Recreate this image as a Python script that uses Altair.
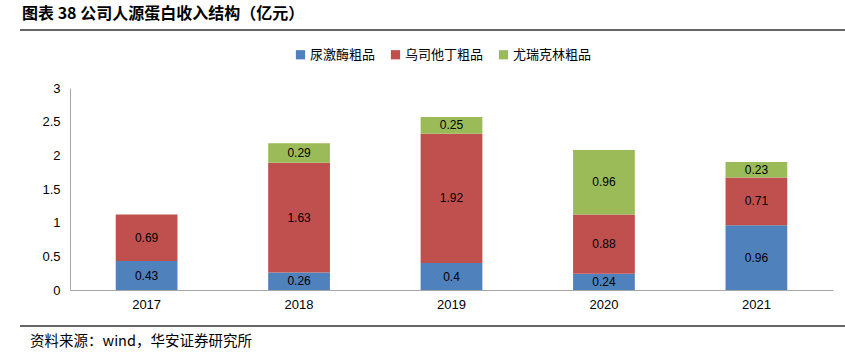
import altair as alt
import pandas as pd

years = ["2017", "2018", "2019", "2020", "2021"]
series = ["尿激酶粗品", "乌司他丁粗品", "尤瑞克林粗品"]
urokinase = [0.43, 0.26, 0.4, 0.24, 0.96]
ulinastatin = [0.69, 1.63, 1.92, 0.88, 0.71]
urinary_kallidinogenase = [None, 0.29, 0.25, 0.96, 0.23]
colors = ["#4F81BD", "#C0504D", "#9BBB59"]
y_ticks = [0, 0.5, 1, 1.5, 2, 2.5, 3]

rows = []
for i, y in enumerate(years):
    for k, vals in enumerate([urokinase, ulinastatin, urinary_kallidinogenase]):
        v = vals[i]
        if v is not None:
            rows.append({"year": y, "series": series[k], "order": k, "value": v, "label": str(v)})
df = pd.DataFrame(rows)

FONT = "Liberation Sans"
CJK = "Noto Sans CJK SC"

base = alt.Chart(df).transform_stack(
    stack="value", groupby=["year"], as_=["v0", "v1"],
    sort=[alt.SortField("order", order="ascending")]
).transform_calculate(mid="(datum.v0 + datum.v1) / 2")

xscale = alt.Scale(domain=years, paddingInner=0.595, paddingOuter=0.3)
yscale = alt.Scale(domain=[0, 3], nice=False, zero=True)

xaxis = alt.Axis(labelAngle=0, ticks=False, grid=False, domainColor="#A6A6A6",
                 labelFont=FONT, labelFontSize=13, labelColor="#000000",
                 labelPadding=8)
yaxis = alt.Axis(values=y_ticks, labelExpr="'' + datum.value", labelOverlap=False,
                 ticks=False, grid=False, domainColor="#A6A6A6",
                 labelFont=FONT, labelFontSize=13, labelColor="#000000",
                 labelPadding=10)

bars = base.mark_bar().encode(
    x=alt.X("year:N", sort=years, title=None, scale=xscale, axis=xaxis),
    y=alt.Y("v0:Q", title=None, scale=yscale, axis=yaxis),
    y2="v1:Q",
    color=alt.Color("series:N", sort=series,
                    scale=alt.Scale(domain=series, range=colors),
                    legend=alt.Legend(title=None, orient="none", direction="horizontal",
                                      legendX=224, legendY=-40,
                                      symbolType="square", symbolSize=85,
                                      symbolStrokeWidth=0, symbolOpacity=1,
                                      labelFont=CJK, labelFontSize=13,
                                      labelColor="#000000", columnPadding=13,
                                      labelOffset=3)),
)

texts = base.mark_text(font=FONT, fontSize=12, color="#000000").encode(
    x=alt.X("year:N", sort=years, title=None, scale=xscale, axis=xaxis),
    y=alt.Y("mid:Q", title=None, scale=yscale, axis=yaxis),
    text="label:N",
)

deco = pd.DataFrame({"a": [0]})
title = alt.Chart(deco).mark_text(
    text="图表 38 公司人源蛋白收入结构（亿元）", font=CJK, fontSize=16, fontWeight="bold",
    align="left", baseline="middle", color="#000000"
).encode(x=alt.value(-48), y=alt.value(-74))
source = alt.Chart(deco).mark_text(
    text="资料来源：wind，华安证券研究所", font=CJK, fontSize=14.5,
    align="left", baseline="middle", color="#000000"
).encode(x=alt.value(-40), y=alt.value(52 + 202))
top_rule = alt.Chart(deco).mark_rule(color="#333333", strokeWidth=1.5).encode(
    x=alt.value(-50), x2=alt.value(775), y=alt.value(-58))
bottom_rule = alt.Chart(deco).mark_rule(color="#333333", strokeWidth=1.5).encode(
    x=alt.value(-50), x2=alt.value(775), y=alt.value(238))

chart = alt.layer(bars, texts, title, source, top_rule, bottom_rule).properties(
    width=763, height=202,
    background="white",
    autosize=alt.AutoSizeParams(type="none"),
    padding={"left": 70, "top": 88, "right": 12, "bottom": 64},
).configure_view(strokeWidth=0, stroke="transparent")

chart.save("out.html", embed_options={"renderer": "svg", "actions": False})
